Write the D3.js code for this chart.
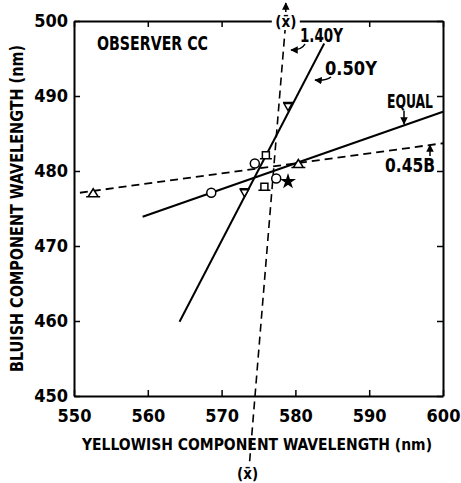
<!DOCTYPE html>
<html>
<head>
<meta charset="utf-8">
<script src="https://cdn.jsdelivr.net/npm/d3@7"></script>
<style>
  body { margin: 0; background: #fff; }
  svg text { font-family: "DejaVu Sans Condensed", "DejaVu Sans", sans-serif; font-weight: bold; fill: #000; }
</style>
</head>
<body>
<div id="chart"></div>
<script>
// Axis ticks
const xTicks = [550, 560, 570, 580, 590, 600];
const yTicks = [450, 460, 470, 480, 490, 500];

// Fitted lines [yellowish, bluish]
const equalLine = [[559.3, 473.9], [600, 487.9]];
const y050Line = [[564.3, 459.9], [583.9, 497.0]];
const b045Line = [[550.8, 477.1], [600, 483.7]];
const y140Line = [[573.8, 441.3], [578.7, 500]];

// Data points by marker type
const circlePts = [[568.6, 477.1], [574.5, 481.0], [577.4, 479.0]];
const squarePts = [[576.0, 482.1], [575.8, 477.9]];
const invTriPts = [[573.1, 477.1], [579.0, 488.6]];
const triPts = [[552.6, 477.1], [580.4, 481.0]];
const filledPts = [[579.0, 478.6]];

const W = 461, H = 483;
const x = d3.scaleLinear().domain([550, 600]).range([74, 443]);
const y = d3.scaleLinear().domain([450, 500]).range([396, 21]);

const svg = d3.select("#chart").append("svg")
  .attr("width", W).attr("height", H);

svg.append("defs").append("marker")
  .attr("id", "arr")
  .attr("viewBox", "0 0 10 10")
  .attr("refX", 9).attr("refY", 5)
  .attr("markerWidth", 5).attr("markerHeight", 5)
  .attr("orient", "auto-start-reverse")
  .append("path").attr("d", "M0,0L10,5L0,10z").attr("fill", "#000");

// Axes
function styleAxis(g) {
  g.select(".domain").attr("stroke-width", 2);
  g.selectAll(".tick line").attr("stroke-width", 1.5);
  g.selectAll("text").style("font-size", "18px").attr("font-family", null);
}

svg.append("g").attr("transform", `translate(0,${y(450)})`)
  .call(d3.axisBottom(x).tickValues(xTicks).tickSizeInner(-6).tickSizeOuter(0).tickPadding(13))
  .call(styleAxis);
svg.append("g").attr("transform", `translate(0,${y(500)})`)
  .call(d3.axisTop(x).tickValues(xTicks).tickSizeInner(-6).tickSizeOuter(0).tickFormat(""))
  .call(styleAxis);
svg.append("g").attr("transform", `translate(${x(550)},0)`)
  .call(d3.axisLeft(y).tickValues(yTicks).tickSizeInner(-6).tickSizeOuter(0).tickPadding(6))
  .call(styleAxis);
svg.append("g").attr("transform", `translate(${x(600)},0)`)
  .call(d3.axisRight(y).tickValues(yTicks).tickSizeInner(-6).tickSizeOuter(0).tickFormat(""))
  .call(styleAxis);

// Axis titles
svg.append("text")
  .attr("x", 82).attr("y", 450)
  .attr("textLength", 350).attr("lengthAdjust", "spacingAndGlyphs")
  .style("font-size", "16px")
  .text("YELLOWISH COMPONENT WAVELENGTH (nm)");

svg.append("text")
  .attr("transform", "translate(23,372) rotate(-90)")
  .attr("textLength", 327).attr("lengthAdjust", "spacingAndGlyphs")
  .style("font-size", "17px")
  .text("BLUISH COMPONENT WAVELENGTH (nm)");

svg.append("text")
  .attr("x", 97).attr("y", 50)
  .attr("textLength", 111).attr("lengthAdjust", "spacingAndGlyphs")
  .style("font-size", "19px")
  .text("OBSERVER CC");

// Lines
const line = d3.line().x(d => x(d[0])).y(d => y(d[1]));

svg.append("path").datum(equalLine).attr("d", line)
  .attr("fill", "none").attr("stroke", "#000").attr("stroke-width", 2);
svg.append("path").datum(y050Line).attr("d", line)
  .attr("fill", "none").attr("stroke", "#000").attr("stroke-width", 2);
svg.append("path").datum(b045Line).attr("d", line)
  .attr("fill", "none").attr("stroke", "#000").attr("stroke-width", 1.8)
  .attr("stroke-dasharray", "8,5");
svg.append("path").datum(y140Line).attr("d", line)
  .attr("fill", "none").attr("stroke", "#000").attr("stroke-width", 1.6)
  .attr("stroke-dasharray", "8,5");

// (x̄) labels at both ends of the dashed 1.40Y line
const topX = x(y140Line[1][0]);
svg.append("rect").attr("x", topX - 14).attr("y", 12).attr("width", 28).attr("height", 18).attr("fill", "#fff");
svg.append("text").attr("x", topX).attr("y", 27).attr("text-anchor", "middle")
  .style("font-size", "15px").text("(x\u0304)");
svg.append("line").attr("x1", topX).attr("x2", topX).attr("y1", 12).attr("y2", 3)
  .attr("stroke", "#000").attr("stroke-width", 1.5).attr("marker-end", "url(#arr)");

const botX = x(y140Line[0][0]) - 2;
svg.append("text").attr("x", botX).attr("y", 479).attr("text-anchor", "middle")
  .style("font-size", "15px").text("(x\u0304)");

// Markers
const pts = svg.append("g").attr("stroke", "#000").attr("stroke-width", 1.5).attr("fill", "#fff");

pts.selectAll(".c").data(circlePts).join("circle")
  .attr("cx", d => x(d[0])).attr("cy", d => y(d[1])).attr("r", 4.5);

pts.selectAll(".s").data(squarePts).join("path")
  .attr("transform", d => `translate(${x(d[0])},${y(d[1])})`)
  .attr("d", "M-3.5,3.5V-3.5H3.5V3.5M-6,3.5H6");

pts.selectAll(".v").data(invTriPts).join("path")
  .attr("transform", d => `translate(${x(d[0])},${y(d[1])})`)
  .attr("d", "M-4,-3L4,-3L0,4Z M-5,-4H5");

pts.selectAll(".t").data(triPts).join("path")
  .attr("transform", d => `translate(${x(d[0])},${y(d[1])})`)
  .attr("d", "M-5,4L0,-4L5,4Z M-7,4H7");

pts.selectAll(".f").data(filledPts).join("path")
  .attr("transform", d => `translate(${x(d[0])},${y(d[1])})`)
  .attr("d", d3.symbol(d3.symbolStar, 40)())
  .attr("fill", "#000");

// Annotations
const ann = svg.append("g").style("font-size", "19px");
ann.append("text").attr("x", 300).attr("y", 42).attr("textLength", 43)
  .attr("lengthAdjust", "spacingAndGlyphs").text("1.40Y");
ann.append("text").attr("x", 325).attr("y", 75).attr("textLength", 52)
  .attr("lengthAdjust", "spacingAndGlyphs").text("0.50Y");
ann.append("text").attr("x", 387).attr("y", 108).attr("textLength", 46)
  .attr("lengthAdjust", "spacingAndGlyphs").text("EQUAL");
ann.append("text").attr("x", 385).attr("y", 172).attr("textLength", 50)
  .attr("lengthAdjust", "spacingAndGlyphs").text("0.45B");

const arrows = [
  "M305,44 Q302,50 291,50",
  "M331,77 Q326,81 315,80",
  "M404,111 L404,124",
  "M430,156 L430,145"
];
svg.append("g").selectAll("path").data(arrows).join("path")
  .attr("d", d => d)
  .attr("fill", "none").attr("stroke", "#000").attr("stroke-width", 1.5)
  .attr("marker-end", "url(#arr)");
</script>
</body>
</html>
